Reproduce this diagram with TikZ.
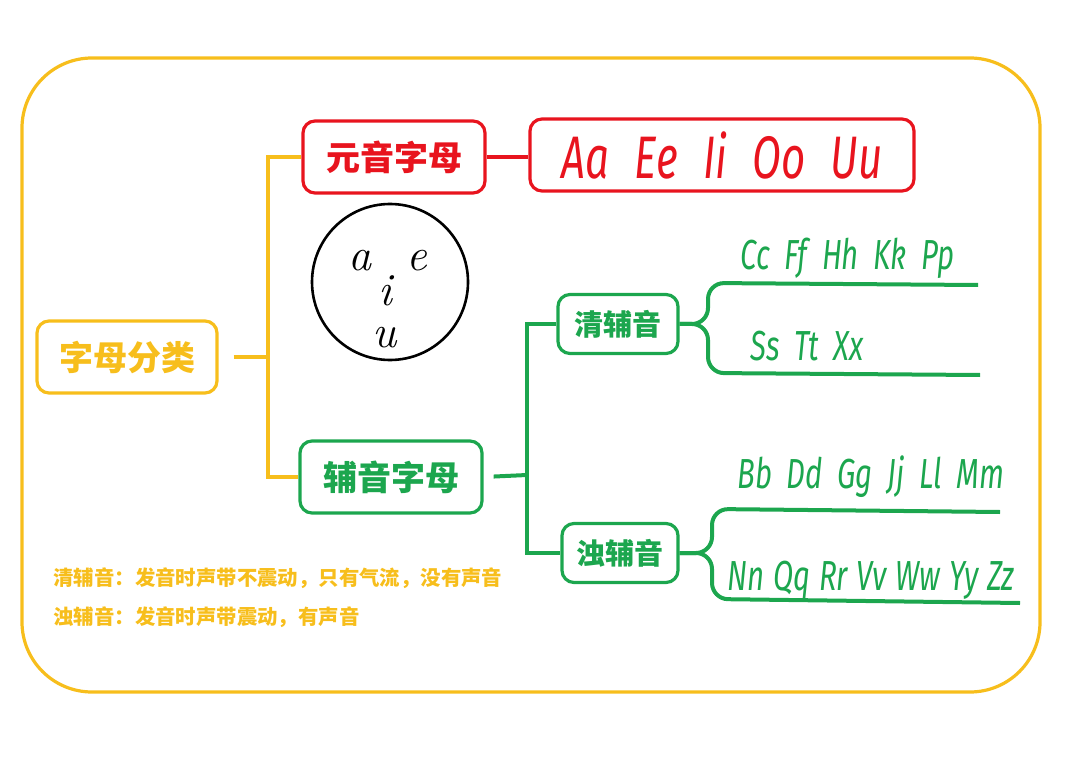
\documentclass[tikz,border=0pt]{standalone}
\usepackage{fontspec}
\usepackage{graphicx}
\newfontfamily\cjk{Noto Sans CJK SC}
\newfontfamily\pinyin{Fira Sans}
\definecolor{mapyellow}{RGB}{247,190,28}
\definecolor{mapred}{RGB}{232,20,30}
\definecolor{mapgreen}{RGB}{28,166,78}
% narrow handwritten-like letters
\newcommand{\hand}[2][0.7]{\scalebox{#1}[1]{\pinyin\itshape #2}}

\begin{document}
\begin{tikzpicture}[x=0.5pt, y=-0.5pt,
    box/.style={draw, line width=1.6pt, rounded corners=6pt, minimum width=#1,
        minimum height=36pt, inner sep=0pt, font=\cjk\bfseries\fontsize{17}{20}\selectfont},
    smallbox/.style={box=#1, minimum height=29.5pt, font=\cjk\bfseries\fontsize{14.5}{17}\selectfont},
    link/.style={line width=2pt},
    row/.style={mapgreen, anchor=base west, inner sep=0pt, font=\fontsize{21}{21}\selectfont},
    vow/.style={inner sep=0pt, anchor=base, font=\fontsize{23}{23}\selectfont\itshape},
    note/.style={mapyellow, anchor=west, inner sep=0pt, font=\cjk\bfseries\fontsize{10.2}{12}\selectfont}]
    \useasboundingbox (0,0) rectangle (1080,764);

    % Outer frame
    \draw[mapyellow, line width=1.6pt, rounded corners=35pt] (22,58) rectangle (1040,692);

    % Main boxes
    \node[box=90pt, mapyellow] (root) at (127,357) {字母分类};
    \node[box=91pt, mapred] (vowel) at (394,157) {元音字母};
    \node[box=192pt, mapred, font=\fontsize{30}{34}\selectfont] (vowellist) at (722,155)
        {\hand{Aa\hspace{0.6em}Ee\hspace{0.6em}Ii\hspace{0.6em}Oo\hspace{0.6em}Uu}};
    \node[box=91pt, mapgreen] (cons) at (391,477) {辅音字母};
    \node[smallbox=60pt, mapgreen] (qing) at (618,324) {清辅音};
    \node[smallbox=58pt, mapgreen] (zhuo) at (620,553) {浊辅音};

    % Circle with the single vowels
    \node[circle, draw, line width=1.3pt, minimum size=78pt] (ring) at (390,282) {};
    \node[vow] (la) at (360,271) {a};
    \node[vow] (le) at (417,271) {e};
    \node[vow] (li) at (385,306) {i};
    \node[vow] (lu) at (385,348) {u};

    % Yellow and red branches
    \coordinate (fork) at (268,357);
    \draw[link, mapyellow, shorten <=7.5pt] (root.east) -- (fork);
    \draw[link, mapyellow] (vowel.west) -| (fork) |- (cons.west);
    \draw[link, mapred] (vowel.east) -- (vowel.east -| vowellist.west);

    % Green branches
    \coordinate (gfork) at (527,475);
    \draw[link, mapgreen, shorten <=5pt] (cons.east) -- (gfork);
    \draw[link, mapgreen] (qing.west) -| (gfork) |- (zhuo.west);

    % Braces under the consonant rows
    \coordinate (qtop) at (978,285);
    \coordinate (qbot) at (980,375);
    \coordinate (ztop) at (1000,512);
    \coordinate (zbot) at (1020,603);
    \draw[link, mapgreen, rounded corners=8pt] (qing.east) -- (708,324) -- (708,283) -- (qtop);
    \draw[link, mapgreen, rounded corners=8pt] (qing.east) -- (708,324) -- (708,373) -- (qbot);
    \draw[link, mapgreen, rounded corners=8pt] (zhuo.east) -- (712,553) -- (712,509) -- (ztop);
    \draw[link, mapgreen, rounded corners=8pt] (zhuo.east) -- (712,553) -- (712,599) -- (zbot);

    % Consonant rows
    \node[row] (crow1) at (740,270) {\hand{Cc\hspace{0.5em}Ff\hspace{0.5em}Hh\hspace{0.5em}Kk\hspace{0.5em}Pp}};
    \node[row] (crow2) at (750,360) {\hand{Ss\hspace{0.5em}Tt\hspace{0.5em}Xx}};
    \node[row] (crow3) at (737,488) {\hand{Bb\hspace{0.5em}Dd\hspace{0.5em}Gg\hspace{0.5em}Jj\hspace{0.5em}Ll\hspace{0.5em}Mm}};
    \node[row] (crow4) at (727,590) {\hand{Nn\hspace{0.3em}Qq\hspace{0.3em}Rr\hspace{0.3em}Vv\hspace{0.3em}Ww\hspace{0.3em}Yy\hspace{0.3em}Zz}};

    % Notes
    \node[note] (note1) at (53,578) {清辅音：发音时声带不震动，只有气流，没有声音};
    \node[note] (note2) at (53,617) {浊辅音：发音时声带震动，有声音};
\end{tikzpicture}
\end{document}
